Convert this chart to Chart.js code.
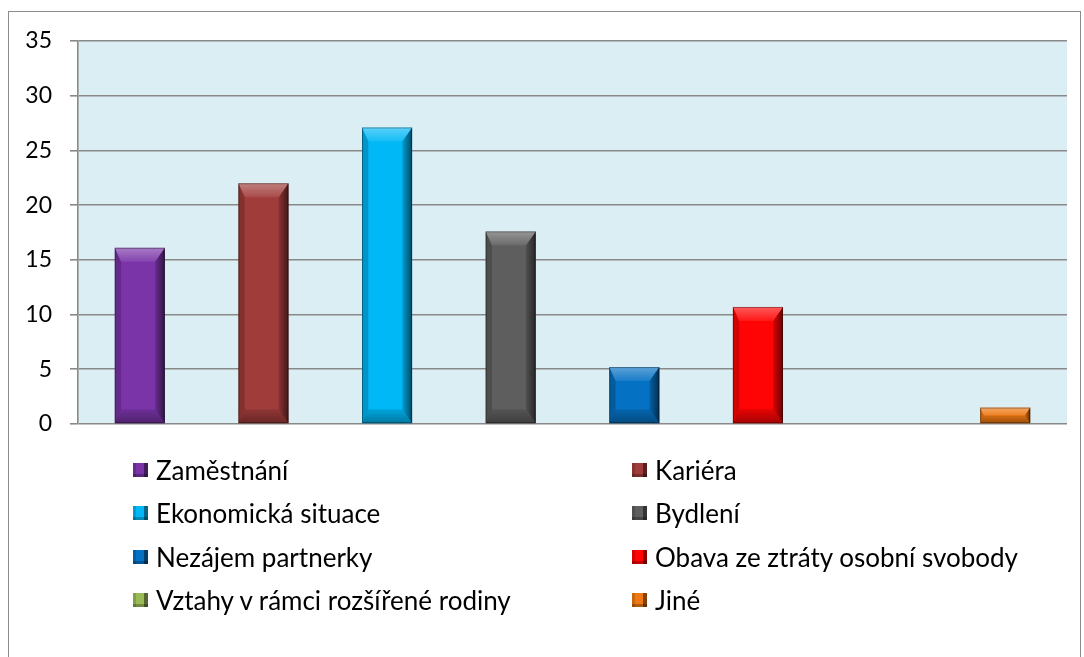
<!DOCTYPE html>
<html lang="cs">
<head>
<meta charset="utf-8">
<title>Důvody odkladu</title>
<script src="https://cdn.jsdelivr.net/npm/chart.js@4.4.1/dist/chart.umd.min.js"></script>
<style>
    html, body { margin: 0; padding: 0; background: #fff; }
    body { width: 1084px; height: 657px; position: relative; overflow: hidden; font-family: 'Lato', sans-serif; }
    #ramecek { position: absolute; left: 8px; top: 11px; width: 1073px; height: 700px; border: 1px solid #8c8c8c; box-sizing: border-box; }
    #obal { position: absolute; left: 0; top: 0; width: 1084px; height: 657px; }
    #legenda {
        position: absolute; left: 133px; top: 448px;
        display: grid; grid-template-columns: 499px auto; grid-auto-rows: 43.5px;
        align-items: center; font-size: 26px; color: #000;
    }
    .polozka { display: flex; align-items: center; white-space: nowrap; }
    .znacka { width: 15px; height: 14px; margin-right: 8px; flex: none; }
</style>
</head>
<body>
<div id="ramecek"></div>
<div id="obal"><canvas id="graf"></canvas></div>
<div id="legenda"></div>

<script>
// --- DATA ---
const kategorie = [
    'Zaměstnání', 'Kariéra', 'Ekonomická situace', 'Bydlení',
    'Nezájem partnerky', 'Obava ze ztráty osobní svobody',
    'Vztahy v rámci rozšířené rodiny', 'Jiné'
];
const hodnoty = [16.1, 22.0, 27.1, 17.6, 5.2, 10.7, 0, 1.5];
const barvy = ['#7A34A8', '#A03C3A', '#00B8F6', '#5E5E5E', '#0571C3', '#FF0404', '#9BBB59', '#EE7812'];
const osaYMax = 35;
const osaYKrok = 5;

// pozadí oblasti grafu
const pozadiPlugin = {
    id: 'pozadi',
    beforeDraw(chart) {
        const { ctx, chartArea: a } = chart;
        ctx.save();
        ctx.fillStyle = '#DBEEF4';
        ctx.fillRect(a.left, a.top, a.right - a.left, a.bottom - a.top);
        ctx.restore();
    }
};

// zkosené hrany sloupců (efekt "bevel")
const zkoseniPlugin = {
    id: 'zkoseni',
    afterDatasetsDraw(chart) {
        const ctx = chart.ctx;
        chart.getDatasetMeta(0).data.forEach(bar => {
            const L = bar.x - bar.width / 2, R = bar.x + bar.width / 2;
            const T = Math.min(bar.y, bar.base), B = Math.max(bar.y, bar.base);
            const h = B - T;
            if (h < 1) return;
            const b = Math.min(14, h / 2, bar.width / 3);
            const poly = (pts, fill) => {
                ctx.beginPath();
                ctx.moveTo(pts[0][0], pts[0][1]);
                pts.slice(1).forEach(p => ctx.lineTo(p[0], p[1]));
                ctx.closePath();
                ctx.fillStyle = fill;
                ctx.fill();
            };
            ctx.save();
            // levá hrana
            poly([[L, T], [L + b * 0.45, T + b], [L + b * 0.45, B - b], [L, B]], 'rgba(0,0,0,0.18)');
            // pravá hrana
            const g = ctx.createLinearGradient(R - b * 0.7, 0, R, 0);
            g.addColorStop(0, 'rgba(0,0,0,0.15)');
            g.addColorStop(1, 'rgba(0,0,0,0.6)');
            poly([[R, T], [R - b * 0.7, T + b], [R - b * 0.7, B - b], [R, B]], g);
            // horní hrana
            const gt = ctx.createLinearGradient(0, T, 0, T + b);
            gt.addColorStop(0, 'rgba(255,255,255,0.35)');
            gt.addColorStop(1, 'rgba(255,255,255,0.08)');
            poly([[L, T], [R, T], [R - b * 0.7, T + b], [L + b * 0.45, T + b]], gt);
            // spodní hrana
            const gb = ctx.createLinearGradient(0, B - b, 0, B);
            gb.addColorStop(0, 'rgba(0,0,0,0.1)');
            gb.addColorStop(1, 'rgba(0,0,0,0.35)');
            poly([[L, B], [R, B], [R - b * 0.7, B - b], [L + b * 0.45, B - b]], gb);
            // obrys
            ctx.strokeStyle = 'rgba(0,0,0,0.35)';
            ctx.lineWidth = 1;
            ctx.strokeRect(L + 0.5, T + 0.5, R - L - 1, h - 1);
            ctx.restore();
        });
    }
};

new Chart(document.getElementById('graf'), {
    type: 'bar',
    data: {
        labels: kategorie,
        datasets: [{
            data: hodnoty,
            backgroundColor: barvy,
            borderWidth: 0,
            categoryPercentage: 1,
            barPercentage: 0.405
        }]
    },
    options: {
        responsive: true, maintainAspectRatio: false, animation: false,
        layout: { padding: { top: 41, right: 17, bottom: 233, left: 0 } },
        plugins: { legend: { display: false }, tooltip: { enabled: false } },
        scales: {
            x: { display: false },
            y: {
                min: 0, max: osaYMax,
                afterFit(scale) { scale.width = 78; },
                ticks: { stepSize: osaYKrok, padding: 18, color: '#000', font: { family: 'Lato', size: 23 } },
                grid: { color: '#898989', lineWidth: 1.6, tickLength: 8, tickColor: '#898989' },
                border: { display: true, color: '#898989', width: 1.6 }
            }
        }
    },
    plugins: [pozadiPlugin, zkoseniPlugin]
});

// legenda ve dvou sloupcích
const legenda = document.getElementById('legenda');
kategorie.forEach((nazev, i) => {
    const el = document.createElement('div');
    el.className = 'polozka';
    const z = document.createElement('span');
    z.className = 'znacka';
    z.style.background = barvy[i];
    z.style.boxShadow = 'inset -4px 0 0 rgba(0,0,0,0.45), inset 0 -3px 0 rgba(0,0,0,0.25), inset 3px 0 0 rgba(0,0,0,0.15)';
    const t = document.createElement('span');
    t.textContent = nazev;
    el.appendChild(z);
    el.appendChild(t);
    legenda.appendChild(el);
});
</script>
</body>
</html>
